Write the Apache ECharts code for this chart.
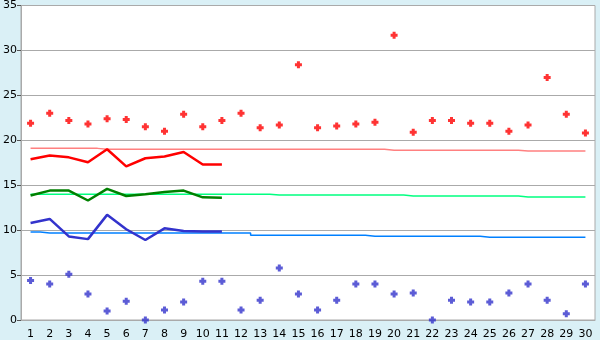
<!DOCTYPE html>
<html>
<head>
<meta charset="UTF-8">
<title>chart</title>
<script src="https://cdn.jsdelivr.net/npm/echarts@6/dist/echarts.min.js"></script>
<style>
  html, body { margin: 0; padding: 0; background: #daf0f6; }
  #main { width: 600px; height: 340px; }
</style>
</head>
<body>
<div id="main"></div>
<script>
// days
var days = [];
for (var i = 1; i <= 30; i++) days.push(String(i));

// upper scatter (red)
var highPts = [21.9, 23.0, 22.2, 21.8, 22.4, 22.3, 21.5, 21.0, 22.9, 21.5,
               22.2, 23.0, 21.4, 21.7, 28.4, 21.4, 21.6, 21.8, 22.0, 31.7,
               20.9, 22.2, 22.2, 21.9, 21.9, 21.0, 21.7, 27.0, 22.9, 20.8];
// lower scatter (blue)
var lowPts = [4.4, 4.0, 5.1, 2.9, 1.0, 2.1, 0.0, 1.1, 2.0, 4.3,
              4.3, 1.1, 2.2, 5.8, 2.9, 1.1, 2.2, 4.0, 4.0, 2.9,
              3.0, 0.0, 2.2, 2.0, 2.0, 3.0, 4.0, 2.2, 0.7, 4.0];
// thick lines, days 1-11
var maxLine = [17.9, 18.3, 18.1, 17.55, 19.0, 17.1, 18.0, 18.2, 18.7, 17.3, 17.3];
var meanLine = [13.85, 14.4, 14.4, 13.3, 14.6, 13.8, 14.0, 14.25, 14.4, 13.65, 13.6];
var minLine = [10.8, 11.25, 9.3, 9.0, 11.7, 10.1, 8.9, 10.2, 9.9, 9.85, 9.85];
// thin normal lines
var normMax = [19.1, 19.1, 19.1, 19.1, 19.0, 19.0, 19.0, 19.0, 19.0, 19.0,
               19.0, 19.0, 19.0, 19.0, 19.0, 19.0, 19.0, 19.0, 19.0, 18.9,
               18.9, 18.9, 18.9, 18.9, 18.9, 18.9, 18.8, 18.8, 18.8, 18.8];
var normMean = [14.0, 14.0, 14.0, 14.0, 14.0, 14.0, 14.0, 14.0, 14.0, 14.0,
                14.0, 14.0, 14.0, 13.9, 13.9, 13.9, 13.9, 13.9, 13.9, 13.9,
                13.8, 13.8, 13.8, 13.8, 13.8, 13.8, 13.7, 13.7, 13.7, 13.7];
var normMin = [9.78, 9.67, 9.67, 9.67, 9.67, 9.67, 9.67, 9.67, 9.67, 9.67,
               9.67, 9.67, 9.44, 9.44, 9.44, 9.44, 9.44, 9.44, 9.33, 9.33,
               9.33, 9.33, 9.33, 9.33, 9.22, 9.22, 9.22, 9.22, 9.22, 9.22];
var yTicks = [0, 5, 10, 15, 20, 25, 30, 35];

// blocky little cross used for the daily points
var mark = 'path://M2,0H5V2H7V5H5V7H2V5H0V2H2Z';

var myChart = echarts.init(document.getElementById('main'));

function thin(data, color) {
  return {
    type: 'line', data: data, step: 'middle', symbol: 'none', z: 2,
    lineStyle: { color: color, width: 1.5 }, silent: true, animation: false
  };
}
function thick(data, color) {
  return {
    type: 'line', data: data, symbol: 'none', z: 3,
    lineStyle: { color: color, width: 2.5 }, silent: true, animation: false
  };
}
function dots(data, color) {
  return {
    type: 'scatter', data: data, symbol: mark, symbolSize: 7, z: 4,
    itemStyle: { color: color }, silent: true, animation: false
  };
}

myChart.setOption({
  backgroundColor: '#daf0f6',
  textStyle: { fontFamily: 'DejaVu Sans' },
  grid: {
    left: 20, right: 5, top: 5, bottom: 20,
    show: true, backgroundColor: '#fff', borderColor: '#aaa', borderWidth: 1
  },
  xAxis: {
    type: 'category',
    data: days,
    boundaryGap: true,
    axisLine: { lineStyle: { color: '#aaa', width: 1 } },
    axisTick: { alignWithLabel: true, length: 6, lineStyle: { color: '#555' } },
    axisLabel: { color: '#000', fontSize: 11, margin: 9, interval: 0 },
    splitLine: { show: false }
  },
  yAxis: {
    type: 'value',
    min: yTicks[0], max: yTicks[yTicks.length - 1], interval: 5,
    axisLine: { show: true, lineStyle: { color: '#aaa', width: 1 } },
    axisTick: { show: true, length: 4, lineStyle: { color: '#555' } },
    axisLabel: { color: '#000', fontSize: 11, margin: 4 },
    splitLine: { lineStyle: { color: '#aaa', width: 1 } }
  },
  series: [
    thin(normMax, '#ff8080'),
    thin(normMean, '#00ff80'),
    thin(normMin, '#0080ff'),
    thick(maxLine, '#ff0000'),
    thick(meanLine, '#008000'),
    thick(minLine, '#3333cc'),
    dots(highPts, '#ff0000'),
    dots(lowPts, '#3333cc')
  ]
});
</script>
</body>
</html>
